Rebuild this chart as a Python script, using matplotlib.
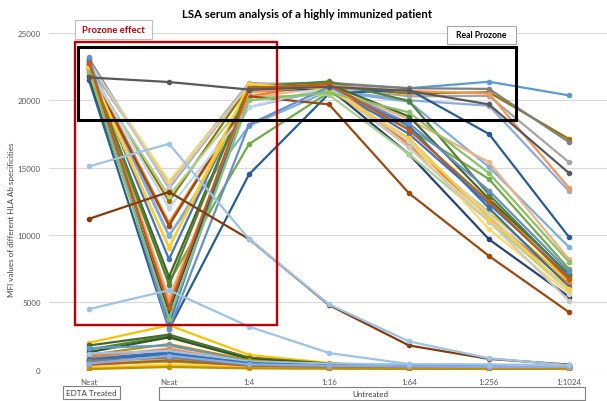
import matplotlib
matplotlib.use("Agg")
import matplotlib.pyplot as plt
from matplotlib.patches import Rectangle

plt.rcParams['font.family'] = ['Lato', 'DejaVu Sans']

categories = ["Neat", "Neat", "1:4", "1:16", "1:64", "1:256", "1:1024"]
y_ticks = [0, 5000, 10000, 15000, 20000, 25000]

# distinctive series
dark_gray_line = [21700, 21360, 20800, 21000, 20700, 19700, 14600]
light_blue_high = [15100, 16770, 9700, 4850, 2100, 850, 330]
brown_low = [11200, 13200, 9700, 4800, 1800, 800, 380]
light_blue_low = [4500, 5900, 3200, 1240, 420, 380, 320]

# high-titre specificities (prozone V)
high_colors = ["#5B9BD5", "#997300", "#7F7F7F", "#A5A5A5", "#8FAADC", "#255E91",
               "#7CAFDD", "#F4B183", "#70AD47", "#43682B", "#4472C4", "#FFC000",
               "#ED7D31", "#264478", "#A9D18E", "#FFD966", "#C9C9C9", "#9E480E",
               "#2E75B6", "#548235", "#BDD7EE", "#F1975A", "#FFCD33", "#698ED0",
               "#8CC168", "#C55A11"]
high_series = [
    [22800, 3300, 21000, 21200, 20900, 21380, 20370],
    [22300, 12500, 21100, 21000, 20500, 20600, 17130],
    [23100, 13500, 21200, 21300, 20900, 20850, 16900],
    [22600, 13900, 21300, 21000, 20300, 20330, 15400],
    [22500, 9900, 19500, 20800, 20000, 19600, 13260],
    [21500, 3000, 14500, 20500, 20800, 17500, 9850],
    [22900, 10000, 18100, 20700, 19900, 15050, 9100],
    [22700, 5300, 20200, 21000, 18600, 15400, 8200],
    [22000, 6500, 16750, 20600, 17900, 14150, 7480],
    [22400, 6900, 20850, 21200, 18800, 12680, 7110],
    [22600, 8200, 21000, 21100, 17500, 12300, 6890],
    [22200, 9100, 20600, 21000, 16550, 11700, 6590],
    [22500, 10900, 20300, 21300, 16750, 11330, 6370],
    [21800, 4300, 20700, 20900, 16000, 9680, 5410],
    [22100, 12900, 20250, 20400, 16000, 11030, 5850],
    [22800, 14000, 21100, 21000, 17000, 10430, 5630],
    [22900, 13600, 21200, 21100, 16500, 11000, 5110],
    [22300, 10700, 20300, 19700, 13100, 8440, 4270],
    [23000, 3500, 20700, 21100, 18100, 12000, 6150],
    [22700, 6300, 21000, 21400, 19950, 13000, 7000],
    [22400, 12000, 19500, 21000, 17000, 11500, 5800],
    [22600, 5000, 20600, 21100, 20700, 20500, 13500],
    [22500, 9000, 21200, 20800, 17200, 11200, 6000],
    [23200, 3000, 18200, 21000, 18300, 13300, 7300],
    [22100, 3800, 20000, 20600, 19100, 14600, 8000],
    [22800, 4600, 20900, 21200, 17800, 12500, 6700],
]

# low-titre specificities
low_colors = ["#FFC000", "#43682B", "#548235", "#375623", "#BF9000", "#5B9BD5",
              "#F4B183", "#ED7D31", "#4472C4", "#264478", "#9DC3E6", "#A5A5A5",
              "#A9D18E", "#70AD47", "#FFD966", "#FFC000", "#2E75B6", "#C55A11",
              "#7F7F7F", "#BF9000", "#8FAADC"]
low_series = [
    [2000, 3300, 1100, 500, 250, 200, 200],
    [1800, 2600, 900, 450, 250, 200, 150],
    [1500, 2500, 850, 400, 250, 200, 150],
    [1300, 2400, 800, 400, 200, 150, 150],
    [1100, 1900, 700, 350, 200, 150, 150],
    [1600, 1800, 600, 350, 300, 250, 250],
    [900, 1600, 550, 300, 200, 200, 150],
    [1000, 1500, 500, 300, 200, 150, 150],
    [800, 1300, 500, 400, 350, 350, 350],
    [700, 1100, 450, 350, 300, 300, 300],
    [1200, 1400, 600, 450, 400, 350, 300],
    [600, 1000, 400, 250, 150, 150, 100],
    [500, 800, 350, 250, 150, 100, 100],
    [400, 600, 300, 200, 150, 100, 100],
    [200, 400, 200, 150, 100, 100, 100],
    [100, 300, 150, 100, 80, 80, 80],
    [750, 1200, 500, 300, 250, 250, 250],
    [350, 700, 300, 200, 150, 100, 100],
    [650, 900, 350, 200, 150, 120, 100],
    [50, 200, 100, 80, 60, 60, 60],
    [450, 1050, 400, 300, 250, 200, 200],
]

W, H = 607, 402
fig = plt.figure(figsize=(W / 100, H / 100), dpi=100)
ax_left, ax_right, ax_top, ax_bottom = 49, 609, 34, 370.7
ax = fig.add_axes([ax_left / W, 1 - ax_bottom / H, (ax_right - ax_left) / W, (ax_bottom - ax_top) / H])
x = list(range(len(categories)))

kw = dict(marker="o", markersize=3.0, linewidth=1.6)
for c, s in zip(low_colors, low_series):
    ax.plot(x, s, color=c, **kw)
for c, s in zip(high_colors, high_series):
    ax.plot(x, s, color=c, **kw)
ax.plot(x, brown_low, color="#843C0C", **kw)
ax.plot(x, light_blue_high, color="#9DC3E6", **kw)
ax.plot(x, light_blue_low, color="#9DC3E6", **kw)
ax.plot(x, dark_gray_line, color="#595959", **kw)

ax.set_xlim(-0.5, len(categories) - 0.5)
ax.set_ylim(0, 25000)
ax.set_yticks(y_ticks)
ax.set_yticklabels([str(v) for v in y_ticks], fontsize=5.8, color="#595959")
ax.set_xticks(x)
ax.set_xticklabels(categories, fontsize=5.8, color="#595959")
ax.tick_params(length=0, pad=6)
ax.grid(axis="y", color="#D9D9D9", linewidth=0.8)
ax.set_axisbelow(True)
for sp in ax.spines.values():
    sp.set_visible(False)
ax.patch.set_alpha(0)

def fig_rect(x0, y0, x1, y1, ec, lw, fc="none", z=10):
    r = Rectangle((x0 / W, 1 - y1 / H), (x1 - x0) / W, (y1 - y0) / H,
                  transform=fig.transFigure, fill=(fc != "none"), facecolor=fc,
                  edgecolor=ec, linewidth=lw, zorder=z)
    fig.patches.append(r)

fig_rect(75, 43, 277, 326, "#C00000", 1.7)
fig_rect(78, 48, 516, 121, "black", 2.2)
fig_rect(75, 21, 152, 40, "#BFBFBF", 0.8, fc="white")
fig_rect(447, 27, 516, 45, "#A6A6A6", 0.8, fc="white")
fig_rect(63, 387, 120, 400, "#808080", 0.8, fc="white")
fig_rect(159, 388, 585, 401, "#808080", 0.8, fc="white")

tk = dict(ha="center", va="center", zorder=30)
fig.text(113.5 / W, 1 - 30.5 / H, "Prozone effect", fontsize=6.8,
         fontweight="bold", color="#C00000", **tk)
fig.text(481.5 / W, 1 - 36 / H, "Real Prozone", fontsize=6.2,
         fontweight="bold", color="black", **tk)
fig.text(91.5 / W, 1 - 393.5 / H, "EDTA Treated", fontsize=5.8, color="#404040", **tk)
fig.text(370 / W, 1 - 394.5 / H, "Untreated", fontsize=5.8, color="#404040", **tk)
fig.text(307.5 / W, 1 - 15 / H, "LSA serum analysis of a highly immunized patient",
         fontsize=8.2, fontweight="bold", color="black", **tk)
fig.text(12 / W, 1 - 220 / H, "MFI values of different HLA Ab specificities",
         rotation=90, fontsize=5.8, color="#404040", **tk)

fig.savefig("out.png", dpi=100)
